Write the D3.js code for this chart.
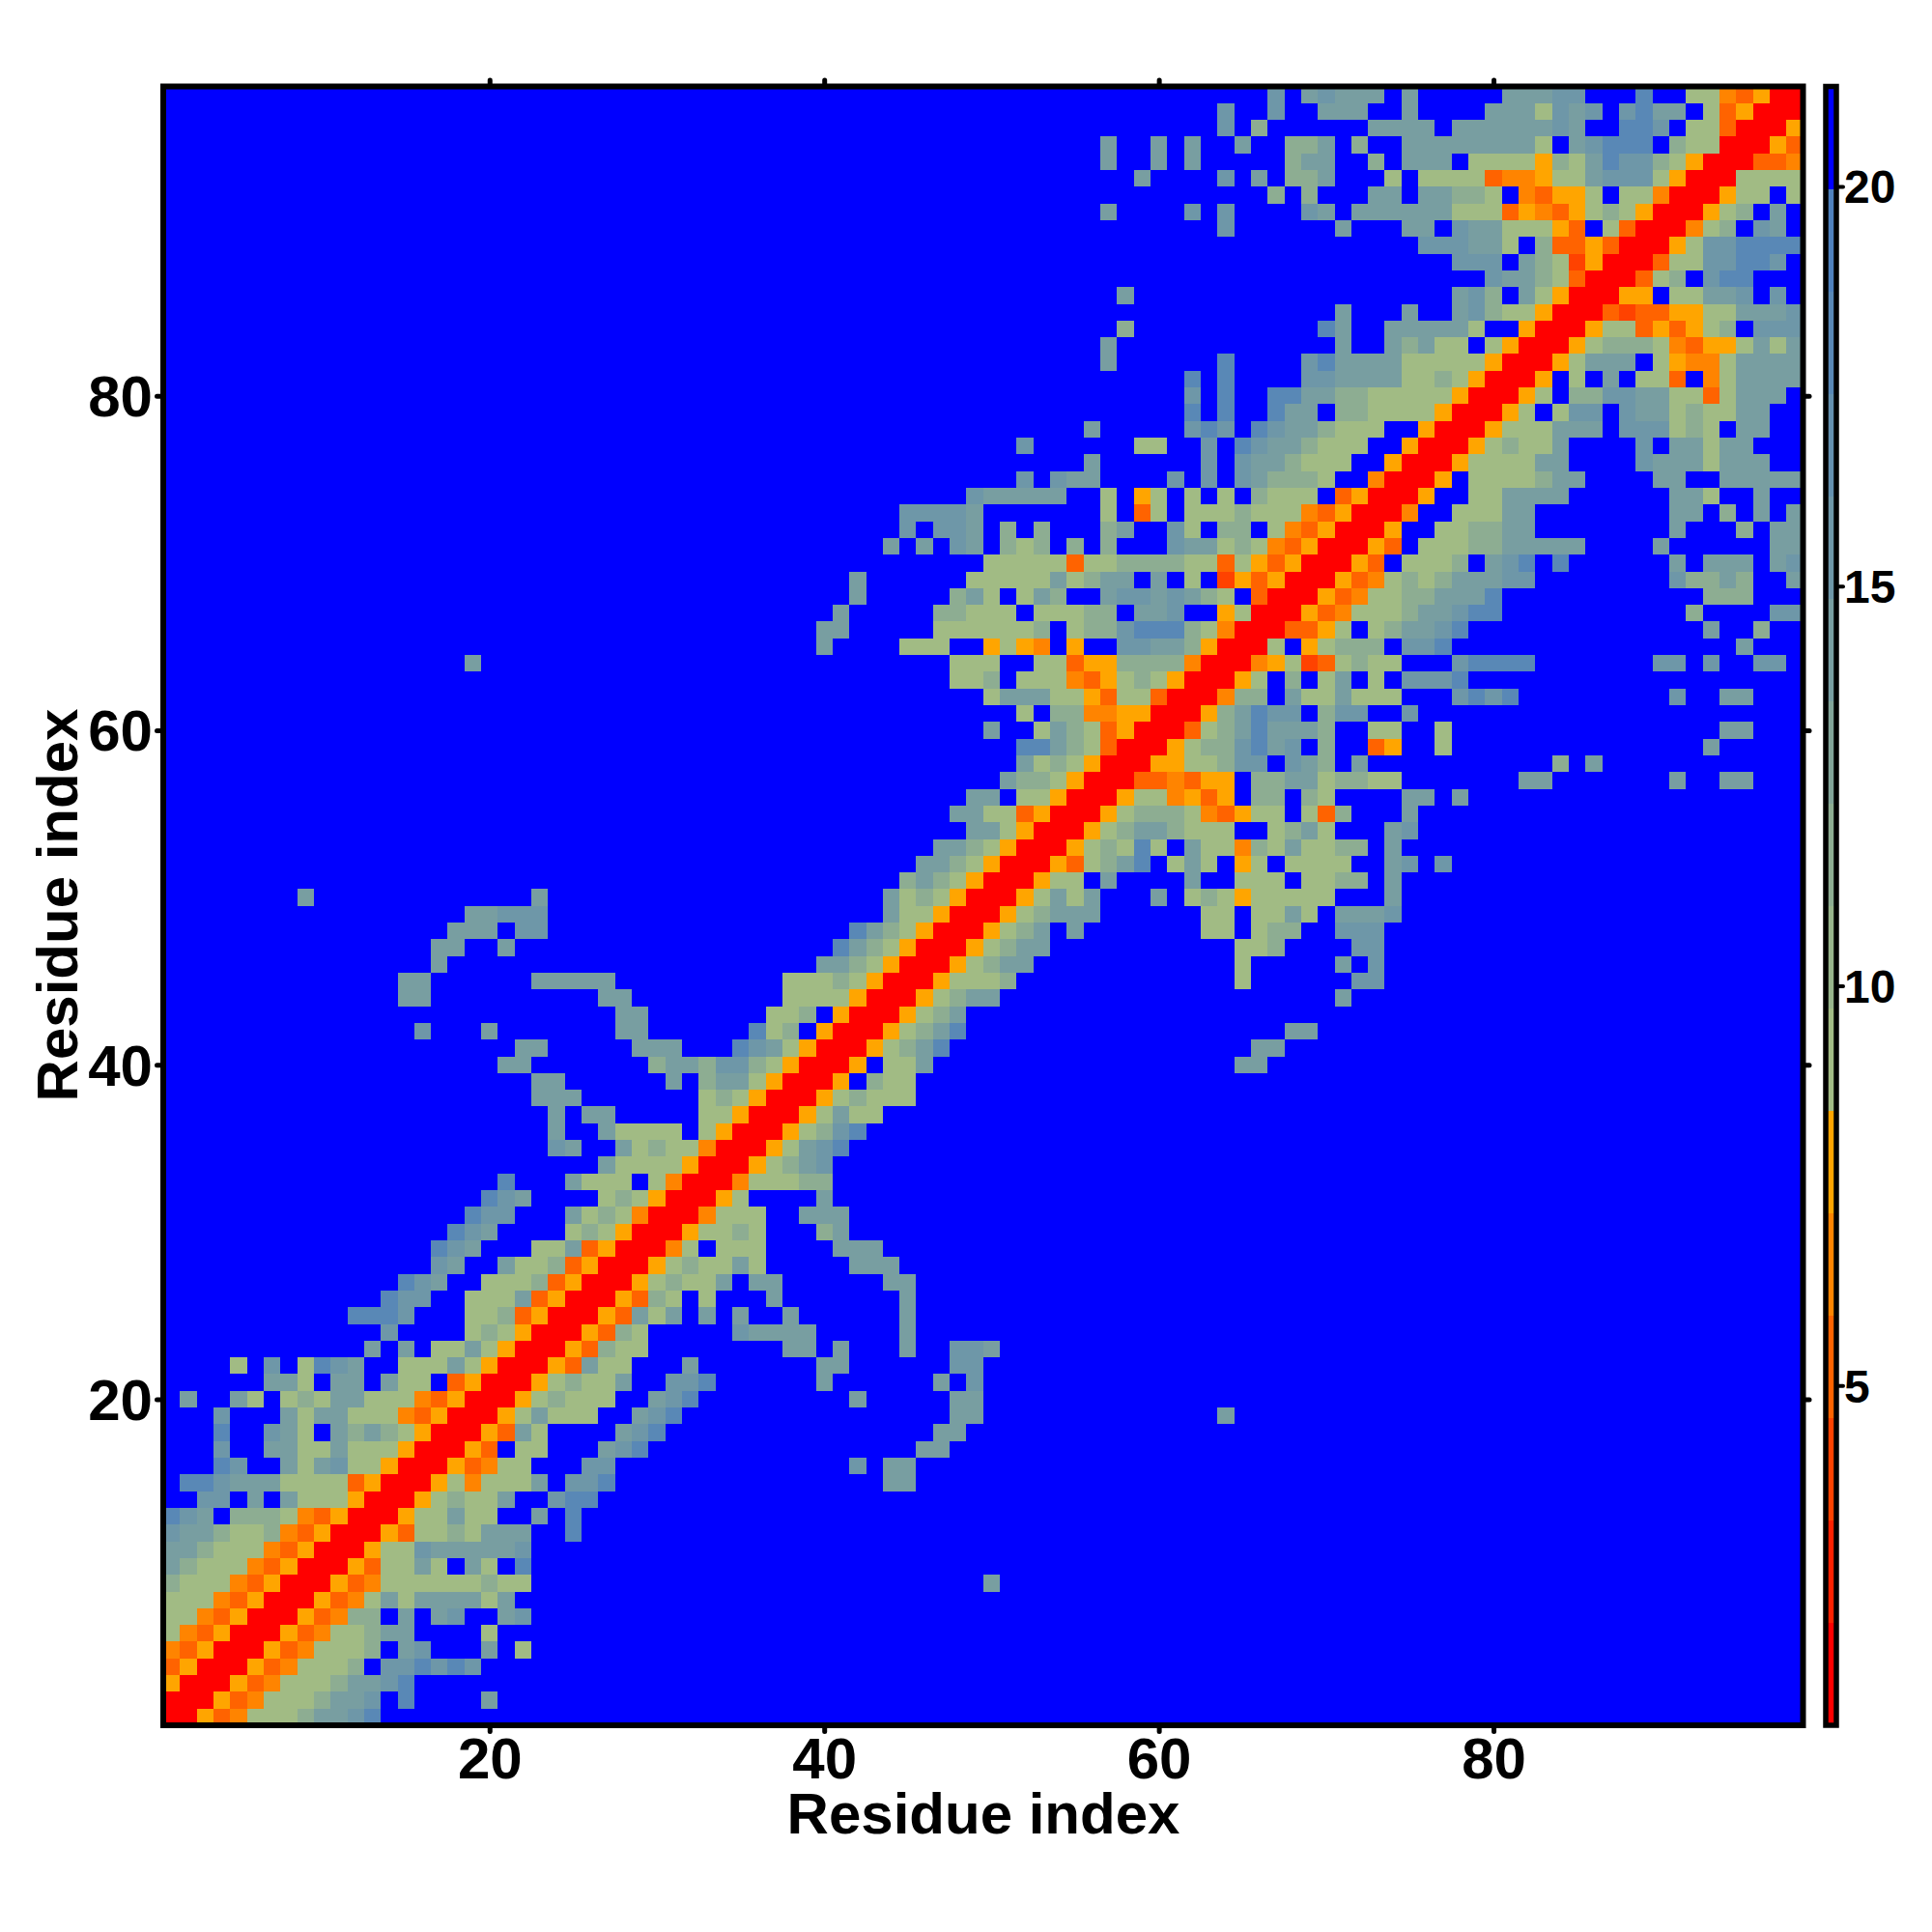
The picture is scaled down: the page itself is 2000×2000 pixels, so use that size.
<!DOCTYPE html>
<html><head><meta charset="utf-8"><style>html,body{margin:0;background:#fff}svg{display:block}text{font-family:"Liberation Sans",Arial,sans-serif;font-weight:bold;fill:#000}</style>
<script src="https://cdnjs.cloudflare.com/ajax/libs/d3/7.8.5/d3.min.js"></script></head><body><svg id="c" width="2000" height="2000"></svg>
<script>
const nResidues = 98;
const axisTicks = [20,40,60,80];
const barTicks = [5,10,15,20];
const barDomain = [0.75,21.25];
const xLabel = "Residue index", yLabel = "Residue index";
// colour-bar steps, red end to blue end
const barColours = ["#ff0000","#ff2100","#ff4200","#ff6300","#ff8400","#ffa500"]
  .concat(d3.range(9).map(i=>d3.interpolateRgb("#a1bb84","#4f81bd")(i/8)))
  .concat(["#0000ff"]);
// distance read for each symbol in the rows below (Angstrom, mid-step estimates)
const distanceOf = {R:1.4,E:3.9,D:5.2,O:6.5,A:7.8,s:9.1,t:11.6,u:14.2,v:15.5,w:18.0,".":20.6};
const d = n=>".".repeat(n);
// upper part of the symmetric matrix: rows[r-1] starts at column r, trailing cells are blue
const rows = [
"RRADOssstuuvw",
"RRADOssstuuv.w....u",
"RRADOssstuuvw",
"RRADOssst.vvwvwv",
"RRADOssst.uv...u.s",
"RRADOsstuu....s",
"RRADOtt.u.uv..uv",
"RRADOsusuuuusu",
"RRADOsssssstss"+d(27)+"u",
"RRADssus.us.w",
"RRAssvuuuuuv",
"RRADsstsuuu..w",
"RRAssuss..u.w",
"RRAstssu..vww",
"RRAsOsssu.vvw"+d(16)+"uu",
"RRADOss...vv"+d(14)+"v.uu",
"RRAD.ss...uvw"+d(16)+"uu",
"RRADus....uvw"+d(16)+"uu",
"RRAsusss..uvw"+d(16)+"uu"+d(14)+"u",
"RRAstsss..uvw"+d(9)+"u"+d(5)+"uu",
"RRAstssu..vvw......u......u.v",
"RRADuss...u.......uu......vv",
"RRADtss........uu.u...u..vvu",
"RRADts.....vuuuu.....u",
"RRADusu.u.u..u......u",
"RRADts.s...u.......u",
"RRAstssu.uu......uu",
"RRAstssus.....uuu",
"RROs.sss....uuu",
"RRAssts...tu",
"RROsss..uuu",
"RRAs....u",
"RROssstt",
"RRAstuv",
"RRAsuvw",
"RRAstvw",
"RRAsuss",
"RRAstsss",
"RRA.tss",
"RRA.ssu"+d(18)+"uu",
"RRAstuw"+d(18)+"uu",
"RRAstuw"+d(19)+"uu",
"RRAstu",
"RRAstuu"+d(20)+"u",
"RRAssst"+d(13)+"s"+d(6)+"vv",
"RRAstuu"+d(12)+"s"+d(5)+"u.v",
"RRAstuu"+d(11)+"sst....vv",
"RRAstu.u.......ss.stt..vvv",
"RRAstuuu......ss.ssus.uuuv",
"RRAsusu...u.stsAsssss...u",
"RRAss.u....u..sss.sstt.u",
"RRADstuw.sus.As.ssss..uv.v",
"RRAstsws.ussOtsusstt.u",
"RRAstuutsss..stus...uv",
"RRAstttsODAss.sDt...u",
"RRAssOADA.tt.ts....uu.u",
"RRDDODAA.ttuusttss"+d(7)+"uu"+d(7)+"u..uu",
"RRAAsstvv.vut.u"+d(11)+"t.u",
"RRAsttvwuv.t..DA..s"+d(15)+"u",
"RRDstuwuuut..ss..s"+d(16)+"uu",
"RRAtuwvv.tvv..v",
"RROtt.ussusss...vwvw"+d(9)+"v..uu",
"RRAs.t.su.s.vvvw",
"RROAsEDstss...vwwww"+d(7)+"vv.v..vv",
"RRs.Asttt.vvw"+d(17)+"u",
"RRDDAs.stuuvw"+d(14)+"u..t",
"RRADOssstuuvww"+d(11)+"t....vv",
"RRADOssttuuuw"+d(12)+"ttt",
"RRADOststuuuvv"+d(8)+"vttut..u",
"RRAD.ssst.uvw.w......u.uuu.uv",
"RRAD.ssstt"+"uuuuu"+"...."+"u"+"......"+"uu",
"RRA..ssttuu"+d(8)+"u...t.uu",
"RRO..sssuu"+d(8)+"uu.t.u.u",
"RRA..ssuuuu"+d(6)+"uus..u",
"RRA.sssstuu....uu..uuuuu",
"RRAssssuu....vuuusuuu",
"RRAstssu....v.uusuu",
"RRAsssuuu.vvvsts.uu",
"RRAs.svv.vuustssuu",
"RRAs.ttvvuussDsuuu",
"RRA.s.u.ssD.Osuuuu",
"RRAsuuu.sAOOsuuuu",
"RRAstttsODAAsusu",
"RRAssDADAst.vvv",
"RRDEDDAAssuuuv",
"RRAA.ssuuv.v",
"RRDst.vww",
"RRDssvvwwv",
"RRAsvvwwww",
"RROst.vu",
"RRAst.u",
"RRAss.s",
"RRssss",
"RRDDO",
"RRAD",
"RRA",
"RR",
"R"];

const svg = d3.select("#c");
const x = d3.scaleLinear().domain([0.5,nResidues+0.5]).range([169,1866.5]);
const y = d3.scaleLinear().domain([0.5,nResidues+0.5]).range([1786,89.5]);
const colour = d3.scaleQuantize().domain(barDomain).range(barColours);
const cells = [];
rows.forEach((s,ri)=>{ const r=ri+1;
  for(let c=r;c<=nResidues;c++){
    const ch = s[c-r]||".";
    const v = distanceOf[ch];
    cells.push({i:c,j:r,v});
    if(c!==r) cells.push({i:r,j:c,v});
  }
});
svg.append("g").attr("shape-rendering","crispEdges").selectAll("rect").data(cells).join("rect")
  .attr("x",e=>x(e.i-0.5)).attr("y",e=>y(e.j+0.5))
  .attr("width",e=>x(e.i+0.5)-x(e.i-0.5)).attr("height",e=>y(e.j-0.5)-y(e.j+0.5))
  .attr("fill",e=>colour(e.v));

function styleAxis(g,size,sw){
  g.select(".domain").remove();
  g.selectAll(".tick line").attr("stroke","#000").attr("stroke-width",sw).attr("stroke-linecap","round");
  g.selectAll("text").attr("font-size",size).attr("font-weight","bold").attr("font-family",'"Liberation Sans",Arial,sans-serif').attr("fill","#000");
}
const bottom = svg.append("g").attr("transform",`translate(0,1786)`).call(d3.axisBottom(x).tickValues(axisTicks).tickSize(6.5).tickPadding(5));
styleAxis(bottom,60,5);
bottom.selectAll("text").attr("y",12).attr("dy","0.71em");
const left = svg.append("g").attr("transform",`translate(169,0)`).call(d3.axisLeft(y).tickValues(axisTicks).tickSize(6.5).tickPadding(5));
styleAxis(left,60,5);
left.selectAll("text").attr("x",-11).attr("dy","0.35em");
const top_ = svg.append("g").attr("transform",`translate(0,89.5)`).call(d3.axisTop(x).tickValues(axisTicks).tickSize(6.5));
styleAxis(top_,10,5); top_.selectAll("text").remove();
const right = svg.append("g").attr("transform",`translate(1866.5,0)`).call(d3.axisRight(y).tickValues(axisTicks).tickSize(6.5));
styleAxis(right,10,5); right.selectAll("text").remove();
svg.append("rect").attr("x",169).attr("y",89.5).attr("width",1697.5).attr("height",1696.5)
  .attr("fill","none").attr("stroke","#000").attr("stroke-width",6);

svg.append("text").attr("x",1018).attr("y",1898).attr("text-anchor","middle").attr("font-size",60).text(xLabel);
svg.append("text").attr("transform","translate(80,937) rotate(-90)").attr("text-anchor","middle").attr("font-size",60).text(yLabel);

// colour bar
const by = d3.scaleLinear().domain(barDomain).range([1786,89.5]);
const thresholds = [barDomain[0]].concat(colour.thresholds(),[barDomain[1]]);
svg.append("g").attr("shape-rendering","crispEdges").selectAll("rect").data(barColours).join("rect")
  .attr("x",1890).attr("width",11)
  .attr("y",(c,i)=>by(thresholds[i+1])).attr("height",(c,i)=>by(thresholds[i])-by(thresholds[i+1]))
  .attr("fill",c=>c);
svg.append("rect").attr("x",1890).attr("y",89.5).attr("width",11).attr("height",1696.5)
  .attr("fill","none").attr("stroke","#000").attr("stroke-width",5.5);
const bar = svg.append("g").attr("transform","translate(1903,0)").call(d3.axisRight(by).tickValues(barTicks).tickSize(5).tickPadding(1));
styleAxis(bar,48,4);
bar.selectAll("text").attr("x",6).attr("dy","0.35em");
</script></body></html>
